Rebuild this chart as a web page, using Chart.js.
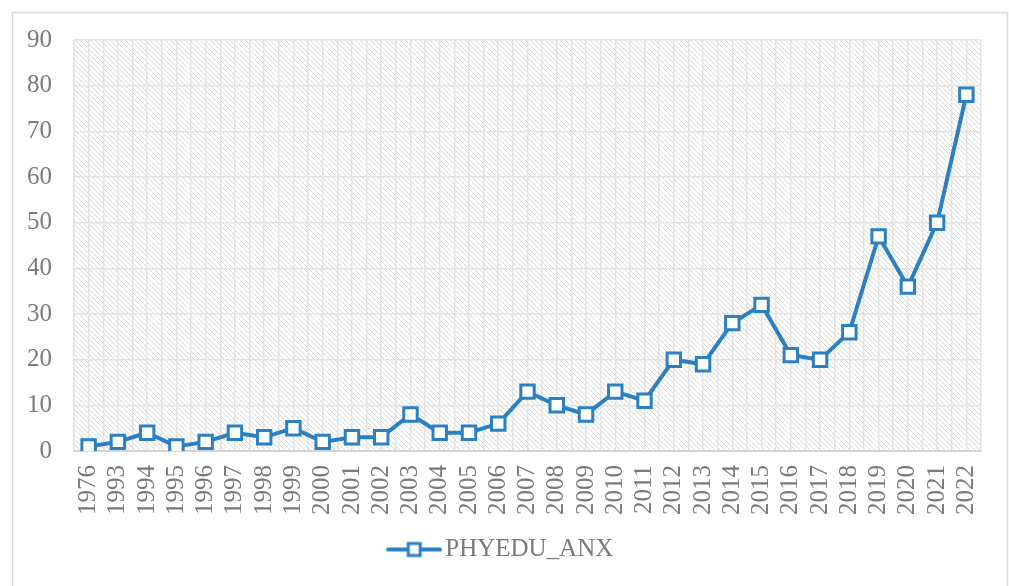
<!DOCTYPE html>
<html>
<head>
<meta charset="utf-8">
<script src="https://cdn.jsdelivr.net/npm/chart.js@4/dist/chart.umd.min.js"></script>
<style>
  html, body { margin: 0; padding: 0; background: #fff; }
  #wrap { width: 1009px; height: 586px; position: relative; }
</style>
</head>
<body>
<div id="wrap"><canvas id="chart" width="1009" height="586"></canvas></div>
<script>
const years = ["1976", "1993", "1994", "1995", "1996", "1997", "1998", "1999", "2000", "2001",
  "2002", "2003", "2004", "2005", "2006", "2007", "2008", "2009", "2010", "2011",
  "2012", "2013", "2014", "2015", "2016", "2017", "2018", "2019", "2020", "2021", "2022"];
const phyeduAnx = [1, 2, 4, 1, 2, 4, 3, 5, 2, 3,
  3, 8, 4, 4, 6, 13, 10, 8, 13, 11,
  20, 19, 28, 32, 21, 20, 26, 47, 36, 50, 78];
const yTicks = [0, 10, 20, 30, 40, 50, 60, 70, 80, 90];

const blue = "#2a80c2";
const textGray = "#7a7a7a";
const gridGray = "#e3e3e3";
const font = "'Liberation Serif', 'Times New Roman', serif";

// hatched plot background, pixel diagonal like Excel's pattern fill
function hatch() {
  const c = document.createElement("canvas");
  c.width = 5; c.height = 5;
  const g = c.getContext("2d");
  g.fillStyle = "#fff";
  g.fillRect(0, 0, 5, 5);
  g.fillStyle = "#dadada";
  for (let i = 0; i < 5; i++) g.fillRect(i, i, 1, 1);
  return c;
}

// legend symbol: line with square marker
function legendIcon() {
  const c = document.createElement("canvas");
  c.width = 56; c.height = 18;
  const g = c.getContext("2d");
  g.strokeStyle = blue;
  g.lineWidth = 4;
  g.lineCap = "round";
  g.beginPath(); g.moveTo(2, 9); g.lineTo(54, 9); g.stroke();
  g.fillStyle = "#fff";
  g.lineWidth = 3;
  g.fillRect(22, 3, 12, 12);
  g.strokeRect(22, 3, 12, 12);
  return c;
}

const background = {
  id: "background",
  beforeDraw(chart) {
    const { ctx, chartArea: a } = chart;
    ctx.save();
    ctx.strokeStyle = "#d9d9d9";
    ctx.lineWidth = 1.5;
    ctx.strokeRect(12.5, 12.5, 995, 590);
    ctx.fillStyle = ctx.createPattern(hatch(), "repeat");
    ctx.fillRect(a.left, a.top, a.right - a.left, a.bottom - a.top);
    ctx.restore();
  }
};

const icon = legendIcon();

new Chart(document.getElementById("chart"), {
  type: "line",
  data: {
    labels: years,
    datasets: [{
      label: "PHYEDU_ANX",
      data: phyeduAnx,
      borderColor: blue,
      borderWidth: 4,
      pointStyle: "rect",
      pointRadius: 9.5,
      pointBorderWidth: 3,
      pointBackgroundColor: "#fff",
      pointBorderColor: blue,
      tension: 0,
      xAxisID: "x"
    }]
  },
  options: {
    responsive: false,
    animation: false,
    layout: { padding: { top: 40, right: 28, left: 28, bottom: 14 } },
    plugins: {
      tooltip: { enabled: false },
      legend: {
        position: "bottom",
        labels: {
          color: textGray,
          font: { family: font, size: 25 },
          usePointStyle: true,
          pointStyleWidth: 37,
          padding: 8,
          generateLabels: (chart) => [{
            text: "PHYEDU_ANX",
            pointStyle: icon,
            fontColor: textGray,
            datasetIndex: 0
          }]
        }
      }
    },
    scales: {
      x: {
        type: "category",
        offset: true,
        weight: 2,
        grid: { offset: true, color: gridGray, lineWidth: 1.5, drawTicks: false },
        border: { display: false },
        ticks: {
          color: textGray,
          font: { family: font, size: 25 },
          minRotation: 90,
          maxRotation: 90,
          padding: 2,
          autoSkip: false
        },
        afterFit: (s) => { s.height = 66; }
      },
      // spacer axis: draws the mid-category grid lines and the base line
      x2: {
        type: "category",
        labels: years,
        position: "bottom",
        offset: true,
        weight: 1,
        grid: { offset: false, color: gridGray, lineWidth: 1.5, drawTicks: false },
        border: { color: "#d4d4d4", width: 2 },
        ticks: { display: false },
        afterFit: (s) => { s.height = 12; }
      },
      y: {
        min: 0,
        max: 90,
        afterBuildTicks: (s) => { s.ticks = yTicks.map(v => ({ value: v })); },
        grid: { color: gridGray, lineWidth: 1.5, drawTicks: false },
        border: { display: false },
        ticks: {
          color: textGray,
          font: { family: font, size: 25 },
          padding: 22
        },
        afterFit: (s) => { s.width = 46; }
      }
    }
  },
  plugins: [background]
});
</script>
</body>
</html>
